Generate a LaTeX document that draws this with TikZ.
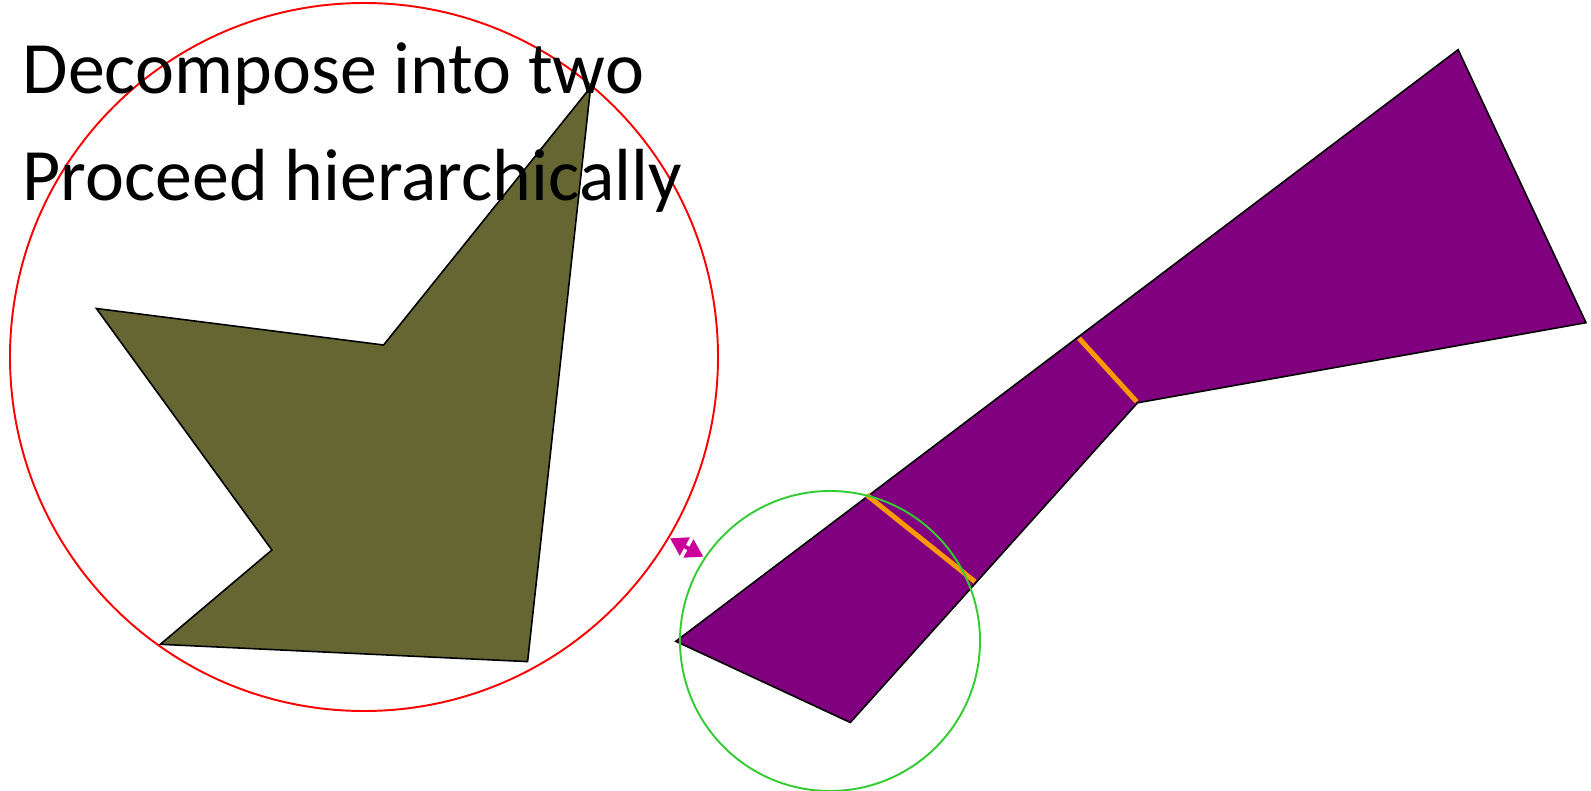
\documentclass[tikz,border=0pt]{standalone}
\usepackage{fontspec}
\setmainfont{Carlito}
\usetikzlibrary{arrows.meta, positioning}
\definecolor{olivefill}{RGB}{102,102,51}
\definecolor{plumfill}{RGB}{128,0,128}
\definecolor{cutorange}{RGB}{255,153,0}
\definecolor{ballgreen}{RGB}{51,204,51}
\definecolor{gapmagenta}{RGB}{204,0,153}

\begin{document}
\begin{tikzpicture}[x=0.01cm, y=-0.01cm, font=\fontsize{21}{25}\selectfont,
    >={Triangle[length=0.17cm, width=0.2cm]}]
    \useasboundingbox (0,0) rectangle (1591,791);
    % the two polygons
    \draw[fill=olivefill, line width=0.45pt] (590.6,87.3) -- (527.6,661.6) -- (160.3,644.3)
        -- (271.9,550) -- (96.4,308.5) -- (383.6,345) -- cycle;
    \draw[fill=plumfill, line width=0.45pt] (675.8,641.3) -- (1458.1,49.7) -- (1586,322.7)
        -- (1137.5,402.8) -- (850.3,722.5) -- cycle;
    % cuts
    \draw[cutorange, line width=1.4pt] (1079,338.3) -- (1136.7,401.7);
    \draw[cutorange, line width=1.4pt] (866.7,495) -- (975,581.7);
    % bounding circles
    \draw[red, line width=0.55pt] (364,357) circle[radius=354];
    \draw[ballgreen, line width=0.55pt] (830,641) circle[radius=150];
    % gap between the circles
    \coordinate (gapa) at (670,538.3);
    \coordinate (gapb) at (703.3,556.7);
    \draw[<->, gapmagenta, line width=1.1pt] (gapa) -- (gapb);
    % text
    \node[anchor=base west, inner sep=0] (decomp) at (22,93.4) {Decompose into two};
    \node[anchor=base west, inner sep=0] (hier) at (22,200) {Proceed hierarchically};
\end{tikzpicture}
\end{document}
